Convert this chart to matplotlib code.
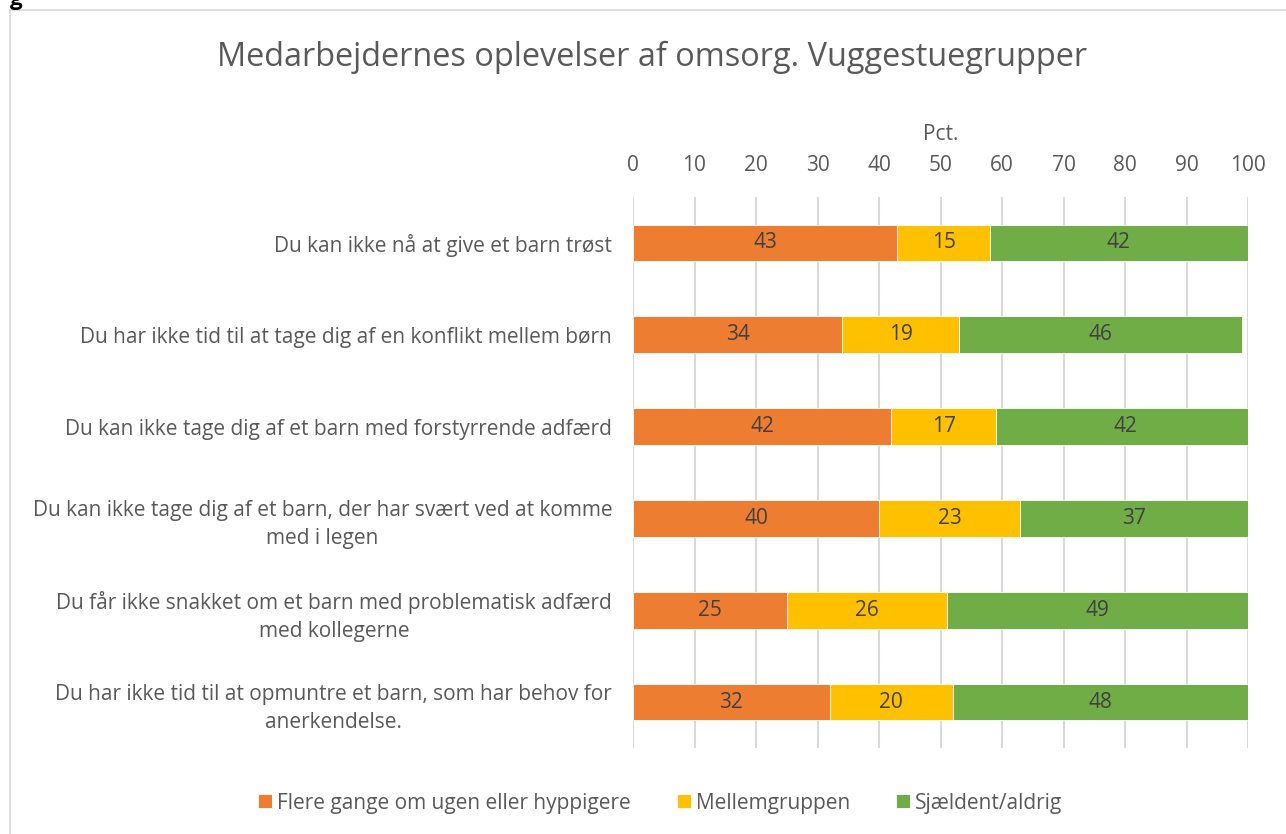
import matplotlib
matplotlib.use("Agg")
import matplotlib.pyplot as plt
from matplotlib.patches import Rectangle
import numpy as np

plt.rcParams['font.family'] = ['Open Sans', 'DejaVu Sans']

questions = [
    "Du kan ikke nå at give et barn trøst",
    "Du har ikke tid til at tage dig af en konflikt mellem børn",
    "Du kan ikke tage dig af et barn med forstyrrende adfærd",
    "Du kan ikke tage dig af et barn, der har svært ved at komme\nmed i legen",
    "Du får ikke snakket om et barn med problematisk adfærd\nmed kollegerne",
    "Du har ikke tid til at opmuntre et barn, som har behov for\nanerkendelse.",
]
often = [43, 34, 42, 40, 25, 32]
middle = [15, 19, 17, 23, 26, 20]
rarely = [42, 46, 42, 37, 49, 48]

series_names = ["Flere gange om ugen eller hyppigere", "Mellemgruppen", "Sjældent/aldrig"]
colors = ["#ED7D31", "#FFC000", "#70AD47"]
txt = "#595959"

fig = plt.figure(figsize=(12.86, 8.34), dpi=100)
ax = fig.add_axes([633 / 1286, 1 - 748 / 834, (1248 - 633) / 1286, (748 - 197) / 834])

# chart frame
fig.patches.append(Rectangle((10 / 1286, -0.05), 1.2, 1 - 10 / 834 + 0.05,
                             transform=fig.transFigure, fill=False,
                             edgecolor="#D9D9D9", lw=1.2))
fig.text(10 / 1286, 1.0, "g", fontsize=16, fontweight="bold", color="black", va="center")

y = np.arange(len(questions))
left = np.zeros(len(questions))
for vals, name, c in zip([often, middle, rarely], series_names, colors):
    vals = np.array(vals)
    bars = ax.barh(y, vals, left=left, height=0.4, color=c, label=name,
                   edgecolor="white", linewidth=0.6, zorder=3)
    for b, v in zip(bars, vals):
        ax.text(b.get_x() + b.get_width() / 2, b.get_y() + b.get_height() / 2, str(v),
                ha="center", va="center", fontsize=15, color="#404040", zorder=4)
    left += vals

ax.set_xlim(0, 100)
ax.set_ylim(5.5, -0.5)
ax.set_xticks(np.arange(0, 101, 10))
ax.xaxis.tick_top()
ax.xaxis.set_label_position("top")
ax.set_xlabel("Pct.", fontsize=15, color=txt, labelpad=11)
ax.tick_params(axis="x", length=0, pad=15, labelsize=15, labelcolor=txt)
ax.set_yticks(y)
ax.set_yticklabels(questions, multialignment="center", linespacing=1.45)
ax.tick_params(axis="y", length=0, pad=15, labelsize=15, labelcolor=txt)
ax.grid(axis="x", color="#D9D9D9", lw=1.5, zorder=0)
for s in ax.spines.values():
    s.set_visible(False)

fig.suptitle("Medarbejdernes oplevelser af omsorg. Vuggestuegrupper",
             x=652 / 1286, y=1 - 57 / 834, va="center", fontsize=23.4, color=txt)

handles, labels = ax.get_legend_handles_labels()
fig.legend(handles, labels, loc="center", bbox_to_anchor=(660 / 1286, 1 - 803 / 834),
           ncol=3, frameon=False, fontsize=15, labelcolor=txt,
           handlelength=0.67, handleheight=0.67, handletextpad=0.25, columnspacing=2.2)

fig.savefig("out.png", dpi=100)
